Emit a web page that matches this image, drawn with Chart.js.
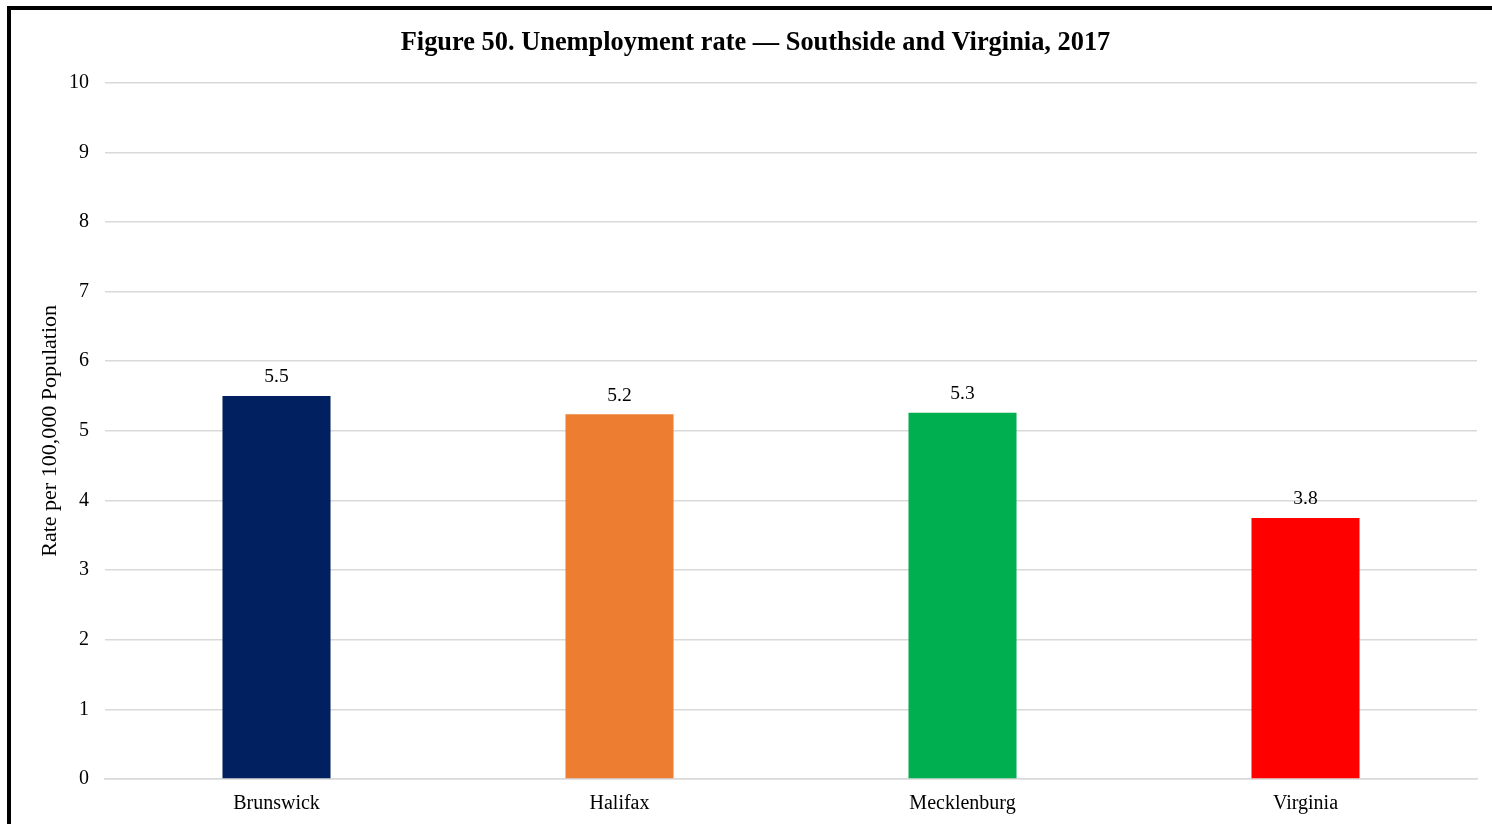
<!DOCTYPE html>
<html>
<head>
<meta charset="utf-8">
<script src="https://cdn.jsdelivr.net/npm/chart.js@4/dist/chart.umd.min.js"></script>
<style>
  html, body { margin: 0; padding: 0; background: #fff; overflow: hidden; }
  #wrap { position: relative; width: 1492px; height: 824px; }
  #frame { position: absolute; left: 7px; top: 6px; width: 2000px; height: 2000px; border: 4px solid #000; box-sizing: border-box; }
  canvas { position: absolute; left: 0; top: 0; }
</style>
</head>
<body>
<div id="wrap">
  <div id="frame"></div>
  <canvas id="c" width="1492" height="824"></canvas>
</div>
<script>
const categories = ["Brunswick", "Halifax", "Mecklenburg", "Virginia"];
const rates = [5.5, 5.24, 5.26, 3.75];
const rateLabels = ["5.5", "5.2", "5.3", "3.8"];
const barColors = ["#002060", "#ED7D31", "#00B050", "#FF0000"];
const yTicks = [0, 1, 2, 3, 4, 5, 6, 7, 8, 9, 10];

const FONT = "'Liberation Serif', 'Times New Roman', serif";

const valueLabels = {
  id: "valueLabels",
  afterDatasetsDraw(chart) {
    const ctx = chart.ctx;
    const meta = chart.getDatasetMeta(0);
    ctx.save();
    ctx.font = "19.5px " + FONT;
    ctx.fillStyle = "#000";
    ctx.textAlign = "center";
    ctx.textBaseline = "bottom";
    meta.data.forEach((bar, i) => {
      ctx.fillText(rateLabels[i], bar.x, bar.y - 9);
    });
    ctx.restore();
  }
};

new Chart(document.getElementById("c"), {
  type: "bar",
  data: {
    labels: categories,
    datasets: [{
      data: rates,
      backgroundColor: barColors,
      borderWidth: 0,
      barPercentage: 0.315,
      categoryPercentage: 1.0
    }]
  },
  options: {
    responsive: false,
    animation: false,
    layout: { padding: { left: 34, right: 15, top: 0, bottom: 0 } },
    plugins: {
      legend: { display: false },
      tooltip: { enabled: false },
      title: {
        display: true,
        text: "Figure 50. Unemployment rate \u2014 Southside and Virginia, 2017",
        color: "#000",
        font: { family: FONT, size: 26.4, weight: "bold" },
        padding: { top: 27, bottom: 24 }
      }
    },
    scales: {
      x: {
        grid: { display: false, drawTicks: false },
        border: { display: true, color: "#D9D9D9", width: 1.5 },
        ticks: { color: "#000", font: { family: FONT, size: 20 }, padding: 13 },
        afterFit(s) { s.height = 45; }
      },
      y: {
        min: 0,
        max: 10,
        afterBuildTicks(s) { s.ticks = yTicks.map(v => ({ value: v })); },
        grid: { color: "#D9D9D9", lineWidth: 1.5, drawTicks: false },
        border: { display: false },
        ticks: { color: "#000", font: { family: FONT, size: 20 }, padding: 16 },
        title: {
          display: true,
          text: "Rate per 100,000 Population",
          color: "#000",
          font: { family: FONT, size: 22 },
          padding: { top: 3, bottom: 4 }
        },
        afterFit(s) { s.width = 71; }
      }
    }
  },
  plugins: [valueLabels]
});
</script>
</body>
</html>
